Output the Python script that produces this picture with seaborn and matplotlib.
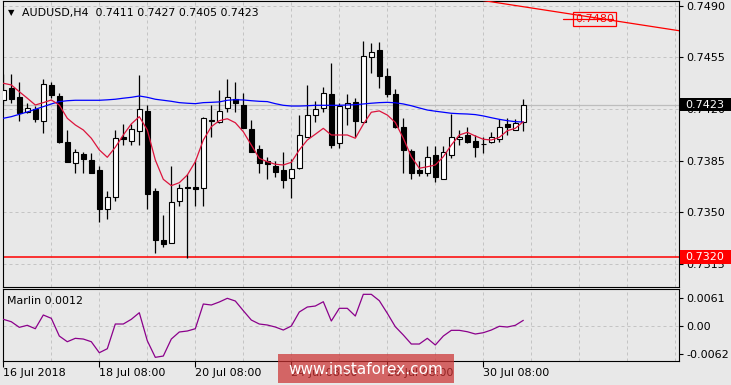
import numpy as np
import matplotlib
matplotlib.use("Agg")
import matplotlib.pyplot as plt
import matplotlib.transforms as mtransforms
from matplotlib.patches import Rectangle
import seaborn as sns

# ---------------- data ----------------
opens = [0.74261, 0.74340, 0.74283, 0.74182, 0.74198, 0.74121, 0.74363, 0.74288, 0.73977, 0.73832,
         0.73895, 0.73855, 0.73787, 0.73521, 0.73606, 0.74013, 0.73981, 0.74053, 0.74187, 0.73645,
         0.73313, 0.73295, 0.73579, 0.73670, 0.73674, 0.73663, 0.74119, 0.74114, 0.74205, 0.74266,
         0.74227, 0.74063, 0.73927, 0.73848, 0.73814, 0.73787, 0.73731, 0.73803, 0.74013, 0.74159,
         0.74205, 0.74302, 0.73972, 0.74205, 0.74245, 0.74114, 0.74550, 0.74600, 0.74424, 0.74300,
         0.74080, 0.73916, 0.73787, 0.73765, 0.73887, 0.73728, 0.73889, 0.73997, 0.74024, 0.73981,
         0.73961, 0.73975, 0.73997, 0.74099, 0.74058, 0.74110]
highs = [0.74437, 0.74437, 0.74383, 0.74239, 0.74220, 0.74401, 0.74385, 0.74310, 0.74058, 0.73927,
         0.73909, 0.73904, 0.73814, 0.73645, 0.74058, 0.74097, 0.74099, 0.74430, 0.74227, 0.73667,
         0.73482, 0.73814, 0.73692, 0.73760, 0.73855, 0.74148, 0.74227, 0.74329, 0.74403, 0.74383,
         0.74306, 0.74126, 0.73956, 0.73877, 0.73848, 0.73911, 0.73862, 0.74159, 0.74363, 0.74254,
         0.74351, 0.74509, 0.74239, 0.74300, 0.74277, 0.74660, 0.74650, 0.74654, 0.74478, 0.74333,
         0.74137, 0.73927, 0.73848, 0.73950, 0.73950, 0.73950, 0.74166, 0.74058, 0.74080, 0.74024,
         0.74008, 0.74046, 0.74130, 0.74137, 0.74130, 0.74270]
lows = [0.74234, 0.74239, 0.74121, 0.74171, 0.74114, 0.74036, 0.74275, 0.73968, 0.73840, 0.73769,
        0.73769, 0.73766, 0.73437, 0.73457, 0.73579, 0.73956, 0.73956, 0.73956, 0.73523, 0.73227,
        0.73268, 0.73292, 0.73545, 0.73189, 0.73545, 0.73545, 0.74008, 0.74103, 0.74182, 0.74182,
        0.74071, 0.73909, 0.73765, 0.73726, 0.73742, 0.73667, 0.73600, 0.73794, 0.74010, 0.74114,
        0.74182, 0.73934, 0.73934, 0.74092, 0.74013, 0.74109, 0.74444, 0.74344, 0.74283, 0.74071,
        0.73769, 0.73728, 0.73749, 0.73747, 0.73708, 0.73725, 0.73870, 0.73956, 0.73968, 0.73873,
        0.73900, 0.73968, 0.73975, 0.74024, 0.74055, 0.74050]
closes = [0.74329, 0.74266, 0.74175, 0.74205, 0.74134, 0.74369, 0.74297, 0.73979, 0.73843, 0.73907,
          0.73864, 0.73769, 0.73525, 0.73602, 0.74002, 0.73995, 0.74063, 0.74198, 0.73625, 0.73313,
          0.73286, 0.73568, 0.73663, 0.73668, 0.73660, 0.74137, 0.74126, 0.74187, 0.74279, 0.74239,
          0.74073, 0.73911, 0.73832, 0.73826, 0.73772, 0.73719, 0.73794, 0.74024, 0.74159, 0.74200,
          0.74306, 0.73956, 0.74220, 0.74239, 0.74119, 0.74557, 0.74589, 0.74425, 0.74300, 0.74080,
          0.73923, 0.73769, 0.73769, 0.73873, 0.73742, 0.73907, 0.74013, 0.74013, 0.73975, 0.73945,
          0.73960, 0.74013, 0.74080, 0.74076, 0.74103, 0.74230]
ma_fast = [0.74374, 0.74363, 0.74317, 0.74273, 0.74227, 0.74243, 0.74261, 0.74227, 0.74137, 0.74092,
           0.74058, 0.74002, 0.73923, 0.73873, 0.73941, 0.74024, 0.74099, 0.74148, 0.74058, 0.73855,
           0.73724, 0.73681, 0.73701, 0.73753, 0.73843, 0.73990, 0.74080, 0.74121, 0.74134, 0.74107,
           0.74046, 0.73956, 0.73866, 0.73843, 0.73826, 0.73821, 0.73839, 0.73923, 0.73990, 0.74029,
           0.74069, 0.74024, 0.74024, 0.74024, 0.74002, 0.74097, 0.74178, 0.74187, 0.74159, 0.74109,
           0.74002, 0.73877, 0.73799, 0.73809, 0.73821, 0.73877, 0.73956, 0.74024, 0.74042, 0.74017,
           0.73995, 0.73990, 0.74008, 0.74053, 0.74069, 0.74114]
ma_slow = [0.74137, 0.74148, 0.74164, 0.74180, 0.74198, 0.74216, 0.74234, 0.74250, 0.74256, 0.74259,
           0.74259, 0.74259, 0.74259, 0.74262, 0.74266, 0.74273, 0.74279, 0.74288, 0.74279, 0.74266,
           0.74259, 0.74252, 0.74243, 0.74239, 0.74236, 0.74243, 0.74245, 0.74248, 0.74259, 0.74263,
           0.74261, 0.74256, 0.74252, 0.74250, 0.74236, 0.74225, 0.74220, 0.74220, 0.74222, 0.74225,
           0.74225, 0.74225, 0.74225, 0.74227, 0.74229, 0.74234, 0.74239, 0.74243, 0.74245, 0.74242,
           0.74234, 0.74222, 0.74207, 0.74193, 0.74185, 0.74178, 0.74171, 0.74168, 0.74166, 0.74162,
           0.74153, 0.74141, 0.74130, 0.74121, 0.74114, 0.74112]
marlin = [0.00143, 0.00089, -0.00036, 0.00009, -0.00067, 0.00239, 0.00165, -0.00230, -0.00357, -0.00281,
          -0.00297, -0.00357, -0.00602, -0.00513, 0.00038, 0.00038, 0.00143, 0.00290, -0.00335, -0.00705,
          -0.00676, -0.00297, -0.00140, -0.00118, -0.00067, 0.00484, 0.00462, 0.00529, 0.00611, 0.00551,
          0.00335, 0.00127, 0.00038, 0.00016, -0.00029, -0.00096, -0.00007, 0.00306, 0.00417, 0.00439,
          0.00535, 0.00105, 0.00388, 0.00388, 0.00216, 0.00700, 0.00700, 0.00558, 0.00277, -0.00022,
          -0.00207, -0.00408, -0.00408, -0.00281, -0.00430, -0.00230, -0.00103, -0.00103, -0.00134, -0.00185,
          -0.00156, -0.00096, -0.00013, -0.00029, 0.00009, 0.00120]

price_ticks = [0.7315, 0.7350, 0.7385, 0.7420, 0.7455, 0.7490]
marlin_ticks = [-0.0062, 0.0, 0.0061]
marlin_tick_labels = ["-0.0062", "0.00", "0.0061"]
date_tick_pos = [0, 12, 24, 36, 48, 60]
date_labels = ["16 Jul 2018", "18 Jul 08:00", "20 Jul 08:00", "24 Jul 08:00", "26 Jul 08:00", "30 Jul 08:00"]
support_level = 0.7320
last_price = 0.7423
trend_x = [60.0, 84.46]
trend_y = [0.74934, 0.74730]
target_price = 0.7481
target_label = "0.7480"
title_text = "AUDUSD,H4  0.7411 0.7427 0.7405 0.7423"
marlin_title = "Marlin 0.0012"

# ---------------- style ----------------
sns.set_theme(style="white")
BG = "#e8e8e8"
plt.rcParams["font.family"] = ["DejaVu Sans"]
plt.rcParams["axes.facecolor"] = BG

W, H = 731, 385
fig = plt.figure(figsize=(W / 100, H / 100), dpi=100, facecolor=BG)

def fx(px):
    return px / W

def fy(py):
    return 1 - py / H

L, R = 2.7, 679.0
ax = fig.add_axes([fx(L), fy(287), (R - L) / W, (287 - 1) / H])
ax2 = fig.add_axes([fx(L), fy(360.7), (R - L) / W, (360.7 - 289.3) / H])
for a in (ax, ax2):
    a.set_facecolor(BG)
    for s in a.spines.values():
        s.set_color("black")
        s.set_linewidth(0.8)

XLIM = (-0.075, 84.46)
grid_kw = dict(color="#c4c4c4", lw=0.72, linestyle=(0, (3, 3)), zorder=0.5)

# ---------------- main panel ----------------
x = np.arange(len(opens))
o = np.array(opens); c = np.array(closes)
hi = np.array(highs); lo = np.array(lows)
up = c >= o

for g in range(0, 85, 6):
    ax.axvline(g, **grid_kw)
    ax2.axvline(g, **grid_kw)

ax.axhline(last_price, color="#bdbdbd", lw=0.9, zorder=1)
ax.axhline(support_level, color="#ff0000", lw=1.1, zorder=2)

ax.vlines(x, lo, hi, color="black", lw=0.9, zorder=3)
bottom = np.minimum(o, c)
height = np.abs(c - o)
ax.bar(x[up], height[up], bottom=bottom[up], width=0.6, color="white",
       edgecolor="black", linewidth=0.8, zorder=4)
ax.bar(x[~up], height[~up], bottom=bottom[~up], width=0.6, color="black",
       edgecolor="black", linewidth=0.8, zorder=4)

sns.lineplot(x=x, y=ma_slow, ax=ax, color="#0000ff", lw=0.9, zorder=5)
sns.lineplot(x=x, y=ma_fast, ax=ax, color="#dc143c", lw=0.9, zorder=5)

ax.plot(trend_x, trend_y, color="#ff0000", lw=0.9, zorder=5)
ax.plot([69.9, 76.2], [target_price, target_price], color="#ff0000", lw=0.9, zorder=5)
ax.text(73.9, target_price, target_label, color="#ff0000", fontsize=8,
        ha="center", va="center", zorder=6,
        bbox=dict(boxstyle="square,pad=0.2", facecolor="none", edgecolor="#ff0000", lw=0.9))

ax.set_xlim(*XLIM)
ax.set_ylim(0.72995, 0.74931)
ax.set_yticks(price_ticks)
ax.set_yticklabels([f"{t:.4f}" for t in price_ticks])
ax.yaxis.tick_right()
ax.tick_params(axis="y", direction="out", length=3, width=0.8, pad=2.5,
               labelsize=8, colors="black", right=True, left=False)
ax.tick_params(axis="x", bottom=False, labelbottom=False)
ax.yaxis.grid(True, **{k: v for k, v in grid_kw.items() if k != "zorder"})
ax.set_axisbelow(True)
ax.set_xlabel(""); ax.set_ylabel("")

blend = mtransforms.blended_transform_factory(ax.transAxes, ax.transData)
box_h = 0.00093
for val, fc in ((last_price, "black"), (support_level, "#ff0000")):
    ax.add_patch(Rectangle((1.0012, val - box_h / 2), 0.0775, box_h, transform=blend,
                           facecolor=fc, edgecolor="none", clip_on=False, zorder=10))
    ax.text(1.0099, val, f"{val:.4f}", transform=blend, color="white", fontsize=8,
            ha="left", va="center", clip_on=False, zorder=11)

# ---------------- marlin panel ----------------
ax2.axhline(0.0, **grid_kw)
sns.lineplot(x=x, y=marlin, ax=ax2, color="#8b008b", lw=0.9, zorder=5)
ax2.set_xlim(*XLIM)
ax2.set_ylim(-0.0078, 0.00812)
ax2.set_yticks(marlin_ticks)
ax2.set_yticklabels(marlin_tick_labels)
ax2.yaxis.tick_right()
ax2.tick_params(axis="y", direction="out", length=3, width=0.8, pad=2.5,
                labelsize=8, colors="black", right=True, left=False)
ax2.set_xticks(date_tick_pos)
ax2.set_xticklabels(date_labels)
for lab in ax2.get_xticklabels():
    lab.set_ha("left")
ax2.tick_params(axis="x", direction="out", length=4, width=0.8, pad=1.5,
                labelsize=8, colors="black", bottom=True)
ax2.set_xlabel(""); ax2.set_ylabel("")

# ---------------- texts ----------------
fig.text(fx(11), fy(12.5), "\u25BC", fontsize=6, ha="center", va="center", color="black")
fig.text(fx(22), fy(12.7), title_text, fontsize=7.9, ha="left", va="center", color="black")
fig.text(fx(7.3), fy(300.5), marlin_title, fontsize=7.9, ha="left", va="center", color="black")

# watermark
fig.add_artist(Rectangle((fx(278), fy(383.3)), 176 / W, 29.3 / H, transform=fig.transFigure,
                         facecolor=(0.80, 0.20, 0.20), alpha=0.72, edgecolor="none", zorder=20))
fig.text(fx(366), fy(370), "www.instaforex.com", fontsize=11, ha="center", va="center",
         color="white", zorder=21)

fig.savefig("out.png", dpi=100, facecolor=BG)
